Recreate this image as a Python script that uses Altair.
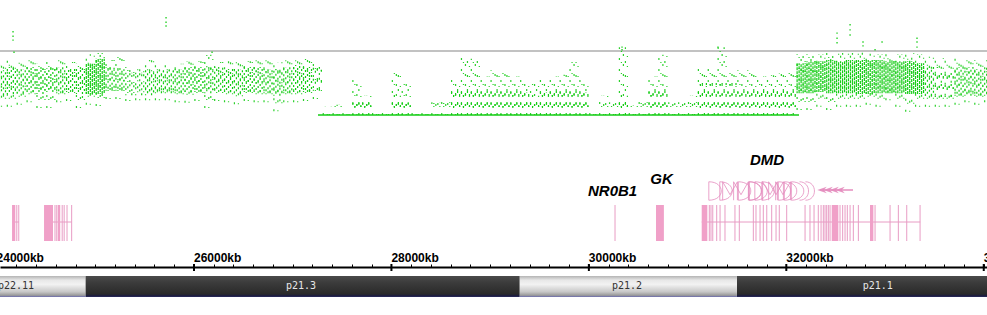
import altair as alt
import pandas as pd

# ---------------- data ----------------
X_DOMAIN = [24035, 34033]          # visible region, kb (chrX)

# copy-number scatter, summarised in 100 kb bins (value: floor line = 0, grey line = 1)
bin_start = list(range(24000, 34100, 100))
core_lo = [.31,.33,.34,.36,.33,.36,.34,.36,.33,.33,
           .33,.38,.38,.31,.31,.31,.34,.34,.34,.36,
           .36,.34,.38,.36,.34,.36,.36,.34,.30,.34,
           .36,.36,.38,0,0,0,0,0,0,0,
           0,0,0,0,0,0,0,0,0,0,
           0,0,0,0,0,0,0,0,0,0,
           0,0,0,0,0,0,0,0,0,0,
           0,0,0,0,0,0,0,0,0,0,
           0,.34,.34,.36,.34,.34,.34,.33,.33,.34,
           .34,.34,.33,.33,.30,.28,.28,.30,.30,.30,
           .30]
core_hi = [.70,.75,.72,.75,.72,.73,.75,.72,.72,.80,
           .88,.75,.72,.66,.66,.70,.70,.70,.72,.75,
           .75,.75,.75,.72,.72,.75,.75,.72,.72,.75,
           .78,.75,.75,.10,.12,.08,.25,.28,.08,.10,
           .30,.20,.06,.06,.19,.20,.40,.45,.45,.40,
           .45,.45,.40,.35,.30,.35,.40,.40,.45,.35,
           .10,.12,.15,.30,.12,.20,.44,.44,.15,.15,
           .20,.50,.50,.50,.50,.45,.40,.40,.45,.40,
           .45,.81,.84,.84,.86,.84,.86,.86,.86,.86,
           .84,.84,.84,.81,.75,.75,.72,.75,.75,.72,
           .75]
out_lo = [.13,.13,.16,.20,.11,.11,.20,.22,.11,.16,
          .14,.25,.25,.22,.23,.23,.23,.23,.20,.19,
          .22,.11,.22,.20,.17,.22,.20,.20,.06,.20,
          .20,.22,.25,0,0,0,0,0,0,0,
          0,0,0,0,0,0,0,0,0,0,
          0,0,0,0,0,0,0,0,0,0,
          0,0,0,0,0,0,0,0,0,0,
          0,0,0,0,0,0,0,0,0,0,
          0,.08,.08,.13,.08,.13,.13,.13,.16,.13,
          .23,.13,.05,.13,.13,.13,.13,.16,.20,.16,
          .20]
out_hi = [.83,.86,.83,.86,.80,.84,.86,.83,.80,.95,
          .97,.86,.92,.75,.72,.86,.80,.78,.80,.84,
          .84,.94,.83,.84,.84,.84,.86,.86,.83,.86,
          .88,.88,.84,.13,.16,.12,.55,.30,.10,.12,
          .67,.50,.08,.08,.20,.25,.55,.90,.88,.60,
          .70,.66,.60,.55,.50,.55,.60,.63,.83,.55,
          .12,.30,.20,1.06,.15,.25,.60,.94,.20,.20,
          .30,.75,.75,1.06,.67,.70,.70,.60,.62,.65,
          .68,.95,.95,.95,.97,.97,.97,.98,.97,.95,
          .97,.95,.97,.95,.91,.89,.88,.91,.88,.86,
          .88]
density = list("mmmmmmmmmd" "dmmssmmmmm" "mmmmmmmmmm" "mmsvvvssvv"
               "ssvvvvssss" "ssssssssss" "vvvsvvssvv" "vsssssssss"
               "sddddddddd" "ddddmssmmm" "m")

outlier_kb = [24167, 24167, 24167, 24177, 25717, 25717, 25717, 26183, 30336, 30336,
              31308, 32514, 32514, 32514, 32646, 32646, 32646, 32777, 32777, 32899,
              32970, 33324, 33324, 33324]
outlier_v = [1.30, 1.23, 1.17, 0.98, 1.52, 1.45, 1.39, 0.98, 1.06, 1.02,
             1.06, 1.28, 1.20, 1.13, 1.41, 1.33, 1.25, 1.14, 1.08, 1.02,
             1.14, 1.20, 1.14, 1.06]

floor_start, floor_end = 27256, 32129   # clipped (deleted) stretch
ref_line_value = 1.0

# genes
block_start = [24157, 24481, 24620, 30680, 31143, 32460, 32848]
block_end   = [24190, 24572, 24645, 30760, 31200, 32527, 32882]
exon_lines = [24205, 24225, 24592, 24610, 24665, 24685, 24714, 24761, 30265,
              31220, 31237, 31255, 31295, 31329, 31379, 31480, 31524, 31666, 31693,
              31734, 31767, 31802, 31852, 31896, 31929, 32004, 32190, 32240, 32281,
              32324, 32352, 32375, 32392, 32409, 32426, 32443, 32544, 32571, 32595,
              32618, 32646, 32679, 32730, 32899, 33051, 33135, 33220, 33355]
intron_start = [24157, 24481, 31143]
intron_end   = [24227, 24761, 33357]

gene_names = ["NR0B1", "GK", "DMD"]
gene_label_kb = [30240, 30736, 31805]

isoform_label_kb = [31430, 31541, 31835, 31896, 31967]
isoform_arc_kb = [32190, 32250]
isoform_arrow_kb = [32362, 32423, 32484, 32544]
isoform_tail = [32342, 32676]

# axis
minor_ticks = list(range(24000, 34201, 200))
major_ticks = [24000, 26000, 28000, 30000, 32000, 34000]

# cytobands
band_names = ["p22.11", "p21.3", "p21.2", "p21.1"]
band_start = [21900, 24900, 29300, 31500]
band_end   = [24900, 29300, 31500, 37600]
band_stain = ["light", "dark", "light", "dark"]
band_label_kb = [24197, 27084, 30387, 32926]

# ---------------- frames ----------------
bins = pd.DataFrame({"kb": [b + 50 for b in bin_start], "clo": core_lo, "chi": core_hi,
                     "olo": out_lo, "ohi": out_hi, "dens": density})
outliers = pd.DataFrame({"kb": outlier_kb, "v": outlier_v})
floor_df = pd.DataFrame({"s": [floor_start], "e": [floor_end], "v": [0.0]})
ref_df = pd.DataFrame({"v": [ref_line_value]})
blocks = pd.DataFrame({"s": block_start, "e": block_end})
lines = pd.DataFrame({"kb": exon_lines})
introns = pd.DataFrame({"s": intron_start, "e": intron_end})
iso_lab = pd.DataFrame({"kb": isoform_label_kb})
iso_arc = pd.DataFrame({"kb": isoform_arc_kb})
iso_arr = pd.DataFrame({"kb": isoform_arrow_kb})
iso_tail = pd.DataFrame({"s": [isoform_tail[0]], "e": [isoform_tail[1]]})
majors = pd.DataFrame({"kb": major_ticks})
bands = pd.DataFrame({"name": band_names, "s": band_start, "e": band_end,
                      "stain": band_stain, "lab": band_label_kb})
genes = pd.DataFrame({"name": gene_names, "kb": gene_label_kb})

# ---------------- encodings ----------------
GREEN = "#14cc14"
PINK = "#f0a0c8"
PINK2 = "#e89cc4"
PINK3 = "#e48cbe"

xs = alt.Scale(domain=X_DOMAIN, nice=False, zero=False)
ys = alt.Scale(domain=[-3.125, 1.797], nice=False, zero=False)
AX = alt.Axis(orient="top", offset=-267, values=minor_ticks, tickSize=3, tickWidth=1,
              tickColor="black", domainColor="black", domainWidth=2, grid=False,
              labels=False, title=None)


def X(f):
    return alt.X(f, type="quantitative", scale=xs, axis=AX, title=None)


def Y(f):
    return alt.Y(f, type="quantitative", scale=ys, axis=None, title=None)


layers = []
layers.append(alt.Chart(ref_df).mark_rule(color="#858585", strokeWidth=1).encode(y=Y("v")))
layers.append(alt.Chart(floor_df).mark_rule(color=GREEN, strokeWidth=1.5)
              .encode(x=X("s"), x2="e", y=Y("v")))

# sub-columns inside each bin, each with its own dot rhythm so no lattice forms
offsets = [-4, -2, 0, 2, 4]
core_dash = [
    [[3, 1], [2, 4], [2, 9], [1, 14]],
    [[2, 1], [1, 5], [1, 10], [2, 16]],
    [[4, 1], [2, 5], [2, 8], [1, 12]],
    [[3, 2], [1, 4], [1, 9], [2, 18]],
    [[4, 2], [2, 6], [2, 11], [1, 15]],
]
outer_dash = [[2, 9], [1, 10], [2, 8], [2, 12], [1, 9]]
dash_off = [0, 3, 1, 4, 2]
for i, off in enumerate(offsets):
    layers.append(alt.Chart(bins).mark_rule(color=GREEN, strokeWidth=1.2, xOffset=off,
                                            strokeDash=outer_dash[i],
                                            strokeDashOffset=dash_off[i], opacity=0.9)
                  .encode(x=X("kb"), y=Y("olo"), y2="ohi"))
    dscale = alt.Scale(domain=["d", "m", "s", "v"], range=core_dash[i])
    layers.append(alt.Chart(bins).mark_rule(color=GREEN, strokeWidth=1.2, xOffset=off,
                                            strokeDashOffset=dash_off[(i + 2) % 5],
                                            opacity=1)
                  .encode(x=X("kb"), y=Y("clo"), y2="chi",
                          strokeDash=alt.StrokeDash("dens:N", scale=dscale, legend=None)))
layers.append(alt.Chart(outliers).mark_square(size=2, color=GREEN, opacity=0.9)
              .encode(x=X("kb"), y=Y("v")))

# genes
layers.append(alt.Chart(introns).mark_rule(color=PINK2, strokeWidth=1)
              .encode(x=X("s"), x2="e", y=alt.value(222)))
layers.append(alt.Chart(blocks).mark_rect(color=PINK)
              .encode(x=X("s"), x2="e", y=alt.value(205), y2=alt.value(241)))
layers.append(alt.Chart(lines).mark_rule(color=PINK2, strokeWidth=1)
              .encode(x=X("kb"), y=alt.value(205), y2=alt.value(241)))

DMD_PATH = ("M-2.3,-1 L-2.3,1 M-2.3,-1 C-0.5,-1 -0.5,1 -2.3,1 "
            "M-0.8,1 L-0.8,-1 L0,0.4 L0.8,-1 L0.8,1 "
            "M0.9,-1 L0.9,1 M0.9,-1 C2.7,-1 2.7,1 0.9,1")
ARC_PATH = "M-0.6,-1 C0.7,-1 0.7,1 -0.6,1"
DART_PATH = "M1,-0.7 L-1,0 L1,0.7 L0.4,0 Z"
layers.append(alt.Chart(iso_lab).mark_point(shape=DMD_PATH, size=340, filled=False,
                                            color=PINK3, strokeWidth=0.8, opacity=1)
              .encode(x=X("kb"), y=alt.value(191)))
layers.append(alt.Chart(iso_arc).mark_point(shape=ARC_PATH, size=340, filled=False,
                                            color=PINK3, strokeWidth=0.8, opacity=1)
              .encode(x=X("kb"), y=alt.value(191)))
layers.append(alt.Chart(iso_tail).mark_rule(color=PINK3, strokeWidth=1.5)
              .encode(x=X("s"), x2="e", y=alt.value(190)))
layers.append(alt.Chart(iso_arr).mark_point(shape=DART_PATH, size=90, filled=True,
                                            color=PINK3, opacity=0.9)
              .encode(x=X("kb"), y=alt.value(190)))

gene_y = {"NR0B1": 196, "GK": 184, "DMD": 165}
for name, yv in gene_y.items():
    layers.append(alt.Chart(genes).transform_filter(alt.datum.name == name)
                  .mark_text(font="Liberation Sans", fontSize=15, fontWeight="bold",
                             fontStyle="italic", align="center", baseline="alphabetic",
                             color="black")
                  .encode(x=X("kb"), y=alt.value(yv), text="name:N"))

# axis major ticks and labels
layers.append(alt.Chart(majors).mark_rule(color="black", strokeWidth=2)
              .encode(x=X("kb"), y=alt.value(264), y2=alt.value(271)))
layers.append(alt.Chart(majors).transform_calculate(lab="datum.kb + 'kb'")
              .mark_text(font="Liberation Sans", fontSize=12, fontWeight="bold",
                         align="left", baseline="alphabetic", color="black")
              .encode(x=X("kb"), y=alt.value(262), text="lab:N"))

# cytobands
dark_grad = alt.LinearGradient(gradient="linear", x1=0, y1=0, x2=0, y2=1, stops=[
    alt.GradientStop(color="#4a4a4a", offset=0),
    alt.GradientStop(color="#3a3a3a", offset=0.35),
    alt.GradientStop(color="#2a2a2a", offset=0.85),
    alt.GradientStop(color="#1e1e3c", offset=0.93),
    alt.GradientStop(color="#2a2a60", offset=1)])
light_grad = alt.LinearGradient(gradient="linear", x1=0, y1=0, x2=0, y2=1, stops=[
    alt.GradientStop(color="#b4b4b4", offset=0),
    alt.GradientStop(color="#e8e8e8", offset=0.2),
    alt.GradientStop(color="#f2f2f2", offset=0.4),
    alt.GradientStop(color="#c8c8c8", offset=0.75),
    alt.GradientStop(color="#9a9a9a", offset=0.92),
    alt.GradientStop(color="#6a6ab0", offset=1)])
for stain, grad in [("dark", dark_grad), ("light", light_grad)]:
    layers.append(alt.Chart(bands).transform_filter(alt.datum.stain == stain)
                  .mark_rect(color=grad, clip=True)
                  .encode(x=X("s"), x2="e", y=alt.value(276), y2=alt.value(297)))
layers.append(alt.Chart(bands).mark_text(font="DejaVu Sans Mono", fontSize=10,
                                         align="center", baseline="middle")
              .encode(x=X("lab"), y=alt.value(286), text="name:N",
                      color=alt.Color("stain:N", scale=alt.Scale(domain=["dark", "light"],
                                      range=["#e6e6e6", "#333333"]), legend=None)))

chart = (alt.layer(*layers)
         .properties(width=987, height=315, padding=0,
                     autosize=alt.AutoSizeParams(type="none"), background="white")
         .configure_view(strokeWidth=0))

chart.save("out.html", embed_options={"renderer": "svg", "actions": False})
